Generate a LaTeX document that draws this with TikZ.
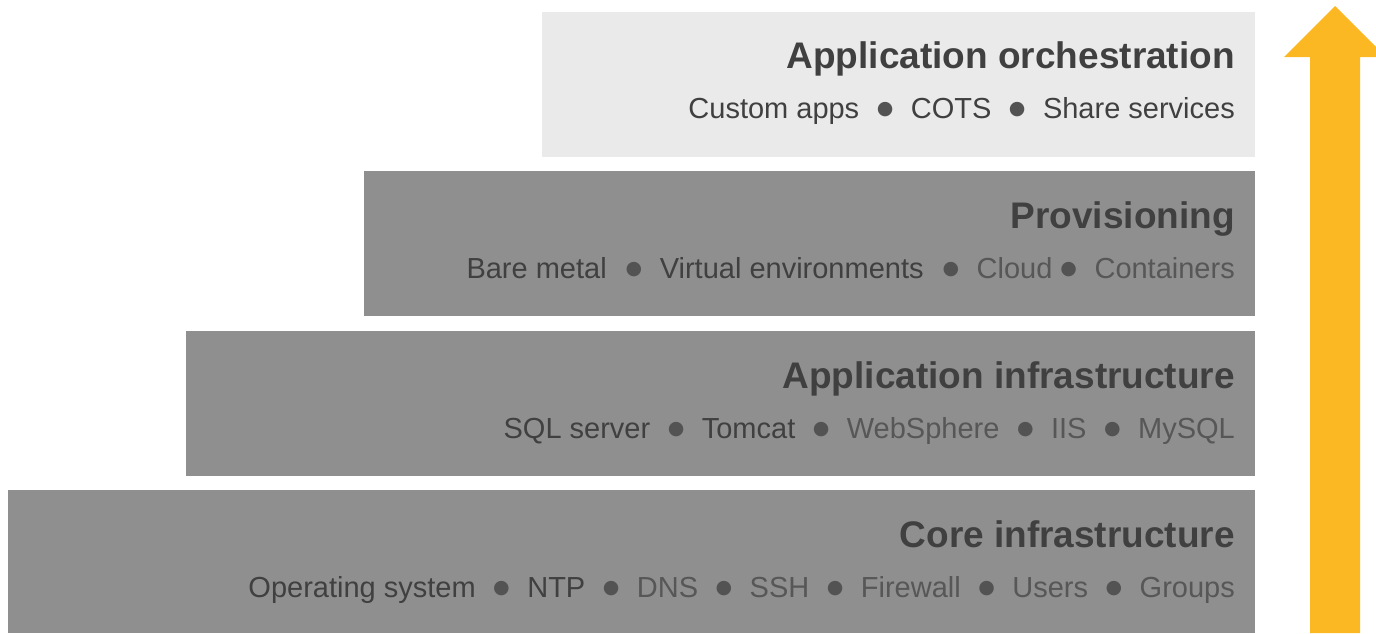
\documentclass[tikz,border=0pt]{standalone}
\usepackage{fontspec}
\setmainfont{Liberation Sans}
\newfontfamily\dotfont{DejaVu Sans}
\usetikzlibrary{calc}

\definecolor{layergray}{HTML}{8F8F8F}
\definecolor{layerlight}{HTML}{EAEAEA}
\definecolor{textdark}{HTML}{404040}
\definecolor{textlight}{HTML}{575757}
\definecolor{arrowgold}{HTML}{FCB823}

\newcommand{\bul}[1][17.5pt]{\hspace{#1}\raisebox{3.5pt}{\color{textdark!90}\dotfont\fontsize{19}{19}\selectfont ●}\hspace{17.5pt}}
\newcommand{\lt}[1]{{\color{textlight}#1}}

\begin{document}
\begin{tikzpicture}[x=1pt,y=-1pt,
    title/.style={anchor=base east, inner sep=0pt, text=textdark, font=\fontsize{37}{37}\selectfont\bfseries},
    items/.style={anchor=base east, inner sep=0pt, text=textdark, font=\fontsize{29}{29}\selectfont}]
    \useasboundingbox (0,0) rectangle (1376,633);

    % Layers
    \fill[layerlight] (542,12) rectangle (1255,157);
    \fill[layergray] (364,171) rectangle (1255,316);
    \fill[layergray] (186,331) rectangle (1255,476);
    \fill[layergray] (8,490) rectangle (1255,633);

    % Application orchestration
    \node[title] (orchT) at (1235,68) {Application orchestration};
    \node[items] (orchI) at (1235,118) {Custom apps\bul COTS\bul Share services};

    % Provisioning
    \node[title] (provT) at (1235,228) {Provisioning};
    \node[items] (provI) at (1235,278) {Bare metal\bul[19pt]Virtual environments\bul[19pt]\lt{Cloud}\bul[8pt]\lt{Containers}};

    % Application infrastructure
    \node[title] (infraT) at (1235,388) {Application infrastructure};
    \node[items] (infraI) at (1235,438) {SQL server\bul Tomcat\bul\lt{WebSphere}\bul\lt{IIS}\bul\lt{MySQL}};

    % Core infrastructure
    \node[title] (coreT) at (1235,547) {Core infrastructure};
    \node[items] (coreI) at (1235,597) {Operating system\bul NTP\bul\lt{DNS}\bul\lt{SSH}\bul\lt{Firewall}\bul\lt{Users}\bul\lt{Groups}};

    % Arrow
    \fill[arrowgold] (1310,633) -- (1310,57) -- (1284,57) -- (1335,6) -- (1386,57) -- (1360,57) -- (1360,633) -- cycle;
\end{tikzpicture}
\end{document}
